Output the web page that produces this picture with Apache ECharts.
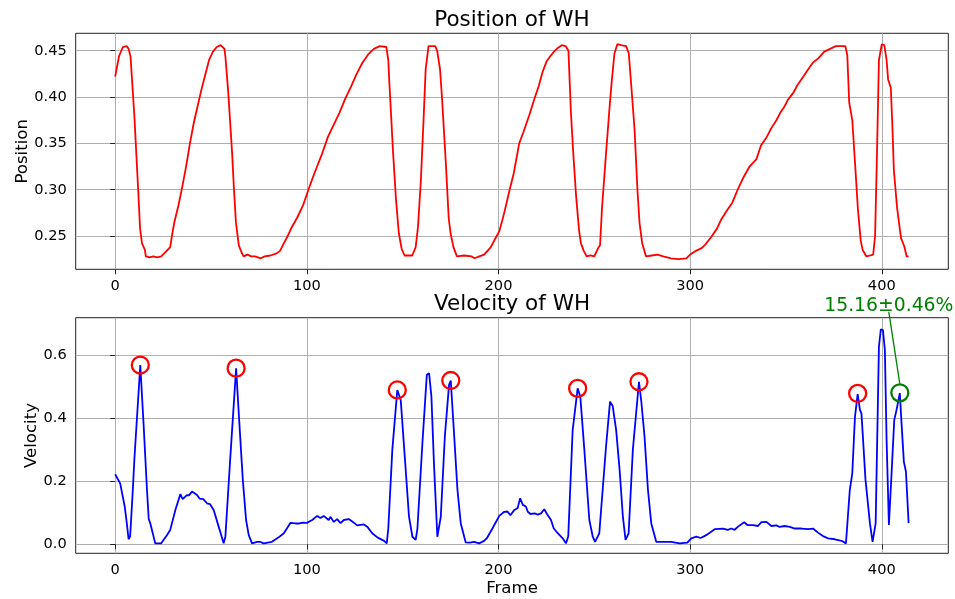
<!DOCTYPE html>
<html>
<head>
<meta charset="utf-8">
<script src="https://cdn.jsdelivr.net/npm/echarts@6/dist/echarts.min.js"></script>
<style>html,body{margin:0;padding:0;background:#fff}#c{width:955px;height:599px}</style>
</head>
<body>
<div id="c"></div>
<script>
// ---- data ----
const xTicks = [0, 100, 200, 300, 400];
const posTicks = [0.25, 0.30, 0.35, 0.40, 0.45];
const velTicks = [0.0, 0.2, 0.4, 0.6];
const posTickLabels = ['0.25', '0.30', '0.35', '0.40', '0.45'];
const velTickLabels = ['0.0', '0.2', '0.4', '0.6'];

const positionData = [
[0,0.422],[2,0.444],[4,0.454],[6,0.455],[7,0.452],[8,0.444],[10,0.380],[12,0.300],[13,0.258],[14,0.242],[15.5,0.235],[16,0.228],[18,0.227],[20,0.228],[22,0.227],[24,0.228],[26,0.232],[28.7,0.238],[30,0.255],[31,0.266],[33,0.283],[35,0.303],[37,0.325],[39,0.350],[41,0.372],[43,0.390],[45,0.408],[47,0.424],[49,0.440],[51,0.449],[53,0.454],[55,0.456],[57,0.452],[57.5,0.444],[59,0.405],[61,0.340],[62,0.300],[63,0.265],[64.5,0.240],[66,0.232],[67,0.228],[69,0.230],[71,0.228],[73,0.228],[76,0.226],[78,0.228],[81,0.229],[84,0.231],[86,0.234],[88,0.242],[90,0.250],[92,0.259],[95,0.270],[98,0.283],[101,0.301],[104,0.318],[108,0.339],[111,0.357],[114,0.370],[117,0.383],[120,0.398],[123,0.411],[126,0.425],[129,0.437],[132,0.446],[135,0.452],[138,0.455],[141.5,0.454],[142.5,0.440],[143,0.418],[145,0.340],[146.5,0.290],[148,0.253],[149.5,0.236],[151,0.229],[153,0.229],[155,0.229],[156.8,0.238],[158,0.260],[159.5,0.310],[161,0.380],[162,0.430],[163.5,0.455],[164.3,0.457],[167,0.455],[168,0.450],[169.5,0.430],[170.5,0.400],[172.5,0.330],[174,0.270],[175,0.253],[176.5,0.238],[178.3,0.228],[182,0.229],[186,0.228],[187.5,0.226],[190,0.228],[192.5,0.230],[196,0.238],[198,0.246],[200.4,0.255],[203,0.275],[205.6,0.298],[208,0.318],[210.8,0.350],[213,0.362],[216,0.380],[218.6,0.397],[221,0.412],[223,0.427],[225,0.438],[227,0.444],[229,0.449],[231,0.453],[233,0.456],[235,0.455],[236.5,0.450],[237.8,0.383],[239,0.340],[240.5,0.293],[242,0.257],[243,0.242],[244.5,0.234],[246,0.228],[248,0.229],[250,0.228],[252,0.237],[253,0.240],[254,0.280],[256,0.336],[258,0.390],[259,0.415],[260.5,0.447],[262,0.457],[264,0.456],[266.6,0.455],[268,0.447],[269,0.420],[271,0.365],[272.5,0.300],[273.6,0.264],[275,0.242],[277,0.228],[280,0.229],[283,0.230],[286,0.228],[290,0.226],[294,0.225],[298,0.226],[300,0.230],[303,0.234],[306,0.237],[308,0.241],[311,0.249],[314,0.258],[316,0.267],[319,0.277],[322,0.286],[325,0.301],[328,0.314],[331,0.325],[334.6,0.333],[337,0.348],[340,0.357],[342.5,0.367],[345,0.375],[347,0.383],[349,0.389],[351,0.397],[354,0.405],[356,0.413],[359,0.422],[361,0.428],[364,0.437],[367,0.442],[370,0.449],[373,0.452],[376,0.455],[381,0.455],[382,0.445],[383,0.394],[384.6,0.375],[386,0.330],[387.5,0.280],[389,0.245],[390,0.235],[392,0.228],[394,0.229],[395.5,0.230],[396.5,0.250],[397.5,0.340],[398.5,0.440],[400,0.457],[401.3,0.456],[402.5,0.440],[403.3,0.419],[404.7,0.410],[405.5,0.370],[406.3,0.321],[408,0.280],[410,0.248],[411.7,0.239],[413,0.228],[414,0.228]
];

const velocityData = [
[0,0.222],[1,0.220],[2.6,0.193],[5,0.119],[6,0.07],[7,0.016],[7.8,0.025],[9,0.15],[10.1,0.278],[13.1,0.568],[14.8,0.383],[16.6,0.172],[17.5,0.08],[18.3,0.067],[19,0.05],[20.9,0.003],[24,0.003],[27,0.029],[28.7,0.045],[31.4,0.109],[34,0.159],[35.2,0.143],[37.4,0.156],[38.5,0.155],[40.1,0.167],[42.7,0.156],[44,0.145],[44.9,0.140],[46,0.143],[47.9,0.130],[49.5,0.127],[51.4,0.109],[54,0.056],[56.6,0.003],[57.5,0.025],[60.1,0.278],[63.1,0.558],[64.8,0.383],[66.6,0.204],[68.3,0.077],[69.7,0.029],[71.4,0.003],[74,0.008],[75.5,0.008],[77.5,0.003],[81.8,0.008],[85.3,0.022],[88,0.035],[91.5,0.068],[94.1,0.066],[96,0.066],[98,0.069],[100,0.068],[102.8,0.077],[105.4,0.090],[107.1,0.083],[108.8,0.090],[111.4,0.077],[112.3,0.087],[114.1,0.071],[115.8,0.080],[117.6,0.067],[119.3,0.077],[121.9,0.080],[123.7,0.072],[126.3,0.060],[129.8,0.063],[131.5,0.056],[134.1,0.035],[136.8,0.022],[140.3,0.011],[141.7,0.003],[142.5,0.05],[144.6,0.299],[147.2,0.489],[149,0.457],[151.1,0.278],[153.3,0.088],[155.1,0.024],[156.8,0.014],[157.7,0.05],[160.3,0.320],[162.6,0.537],[163.8,0.542],[165,0.468],[166.4,0.246],[168.1,0.024],[169.9,0.088],[172,0.341],[174.2,0.505],[175.1,0.519],[176.8,0.352],[178.6,0.172],[180.3,0.067],[182.9,0.006],[185,0.005],[187.3,0.008],[189.9,0.003],[192.5,0.011],[194,0.02],[196.9,0.051],[200.4,0.090],[203,0.103],[204.7,0.104],[206.2,0.092],[208.3,0.109],[210,0.115],[211.3,0.146],[212.7,0.125],[214.3,0.120],[215.3,0.103],[216.7,0.096],[218.8,0.098],[220.5,0.094],[222.2,0.098],[223.9,0.111],[225.3,0.096],[227.4,0.077],[228.8,0.051],[230.8,0.036],[233.5,0.019],[235.2,0.003],[236.4,0.025],[238.7,0.362],[241.3,0.494],[242.7,0.468],[244.8,0.299],[247.4,0.077],[249.2,0.024],[250.4,0.008],[252.6,0.035],[253.5,0.040],[256.1,0.309],[258.2,0.452],[259.6,0.438],[261.4,0.362],[263.2,0.236],[264.9,0.088],[266.3,0.014],[267.9,0.035],[270.1,0.299],[273.3,0.515],[274.5,0.454],[276.2,0.341],[278,0.172],[279.7,0.067],[282.3,0.008],[286.6,0.008],[290.1,0.008],[294.5,0.003],[298.5,0.005],[300.6,0.019],[303.2,0.024],[305.5,0.020],[308.4,0.029],[312.8,0.048],[317.1,0.050],[319.7,0.046],[321.4,0.050],[323.2,0.046],[325,0.056],[328.2,0.070],[329.9,0.061],[332.8,0.061],[335.4,0.058],[337.2,0.070],[339.8,0.071],[342.4,0.058],[345,0.060],[346.7,0.055],[349.3,0.058],[352,0.055],[354.6,0.050],[358,0.050],[361.5,0.048],[364.1,0.050],[366.7,0.037],[369.3,0.026],[372,0.019],[375.5,0.016],[379,0.011],[381.3,0.003],[383.3,0.172],[384.6,0.225],[386,0.404],[387.4,0.476],[388.6,0.426],[389.4,0.414],[391.5,0.204],[393.8,0.067],[395.2,0.008],[396.8,0.067],[398.5,0.626],[399.5,0.681],[400.6,0.679],[401.6,0.616],[402.5,0.331],[403.7,0.061],[405.1,0.225],[406.5,0.394],[407.7,0.426],[409.4,0.479],[410.3,0.384],[411.5,0.262],[412.6,0.230],[414,0.067]
];

const peakFrames = [13.1, 63.1, 147.2, 175.1, 241.3, 273.3, 387.4];
const peakValues = [0.568, 0.558, 0.489, 0.519, 0.494, 0.515, 0.478];
const highlightFrame = [409.4];
const highlightValue = [0.480];
const annotationText = '15.16±0.46%';

// ---- chart ----
const FONT = 'DejaVu Sans';
const chart = echarts.init(document.getElementById('c'), null, {renderer: 'canvas'});

function xAxisCfg(gridIndex, name) {
  return {
    type: 'value', gridIndex: gridIndex, min: -20.6, max: 434.7,
    name: name || '', nameLocation: 'middle', nameGap: 27, nameMoveOverlap: false,
    nameTextStyle: {fontFamily: FONT, fontSize: 16.6, color: '#000'},
    axisLine: {show: false},
    axisTick: {show: true, length: 5, lineStyle: {color: '#222', width: 1}, customValues: xTicks},
    axisLabel: {fontFamily: FONT, fontSize: 14.6, color: '#000', margin: 9, customValues: xTicks},
    splitLine: {show: true, lineStyle: {color: '#b0b0b0', width: 1}}
  };
}
function yAxisCfg(gridIndex, name, min, max, ticks, labels, gap) {
  return {
    type: 'value', gridIndex: gridIndex, min: min, max: max,
    name: name, nameLocation: 'middle', nameGap: gap, nameRotate: 90, nameMoveOverlap: false,
    nameTextStyle: {fontFamily: FONT, fontSize: 16.6, color: '#000'},
    axisLine: {show: false},
    axisTick: {show: true, length: 5, lineStyle: {color: '#222', width: 1}, customValues: ticks},
    axisLabel: {fontFamily: FONT, fontSize: 14.6, color: '#000', margin: 9, customValues: ticks,
      formatter: function (v) { const i = ticks.findIndex(t => Math.abs(t - v) < 1e-9); return i >= 0 ? labels[i] : ''; }},
    splitLine: {show: true, lineStyle: {color: '#b0b0b0', width: 1}}
  };
}

const option = {
  animation: false,
  backgroundColor: '#fff',
  grid: [
    {left: 75.7, right: 6.7, top: 33.3, height: 236, containLabel: false, outerBoundsMode: 'none', show: true, borderColor: '#222', borderWidth: 1, backgroundColor: 'transparent'},
    {left: 75.7, right: 6.7, top: 317.7, height: 235.6, containLabel: false, outerBoundsMode: 'none', show: true, borderColor: '#222', borderWidth: 1, backgroundColor: 'transparent'}
  ],
  xAxis: [xAxisCfg(0), xAxisCfg(1, 'Frame')],
  yAxis: [
    yAxisCfg(0, 'Position', 0.2141, 0.4688, posTicks, posTickLabels, 45),
    yAxisCfg(1, 'Velocity', -0.0285, 0.718, velTicks, velTickLabels, 36)
  ],
  series: [
    {type: 'line', xAxisIndex: 0, yAxisIndex: 0, data: positionData, showSymbol: false,
      lineStyle: {color: '#ff0000', width: 1.8}, silent: true},
    {type: 'line', xAxisIndex: 1, yAxisIndex: 1, data: velocityData, showSymbol: false,
      lineStyle: {color: '#0000ff', width: 1.8}, silent: true},
    {type: 'scatter', xAxisIndex: 1, yAxisIndex: 1, data: peakFrames.map((f, i) => [f, peakValues[i]]),
      symbol: 'circle', symbolSize: 17, itemStyle: {color: 'rgba(0,0,0,0)', borderColor: '#ff0000', borderWidth: 2.3, opacity: 1}, z: 5},
    {type: 'scatter', xAxisIndex: 1, yAxisIndex: 1, data: highlightFrame.map((f, i) => [f, highlightValue[i]]),
      symbol: 'circle', symbolSize: 17, itemStyle: {color: 'rgba(0,0,0,0)', borderColor: '#008000', borderWidth: 2.3, opacity: 1}, z: 5}
  ]
};
chart.setOption(option);

// titles centred on the plot areas, annotation offset from the highlighted point
const g0 = chart.getModel().getComponent('grid', 0).coordinateSystem.getRect();
const g1 = chart.getModel().getComponent('grid', 1).coordinateSystem.getRect();
const p = chart.convertToPixel({gridIndex: 1}, [highlightFrame[0], highlightValue[0]]);
chart.setOption({
  graphic: [
    {type: 'text', x: g0.x + g0.width / 2, y: g0.y - 2, style: {text: 'Position of WH', fontFamily: FONT, fontSize: 21.5, fill: '#000', align: 'center', verticalAlign: 'bottom'}},
    {type: 'text', x: g1.x + g1.width / 2, y: g1.y - 2, style: {text: 'Velocity of WH', fontFamily: FONT, fontSize: 21.5, fill: '#000', align: 'center', verticalAlign: 'bottom'}},
    {type: 'line', shape: {x1: p[0] - 11, y1: p[1] - 81, x2: p[0], y2: p[1] - 9}, style: {stroke: '#008000', lineWidth: 1.3}, z: 10},
    {type: 'text', x: p[0] - 11, y: p[1] - 77, style: {text: annotationText, fontFamily: FONT, fontSize: 18.8, fill: '#008000', align: 'center', verticalAlign: 'bottom'}, z: 10}
  ]
});
</script>
</body>
</html>
